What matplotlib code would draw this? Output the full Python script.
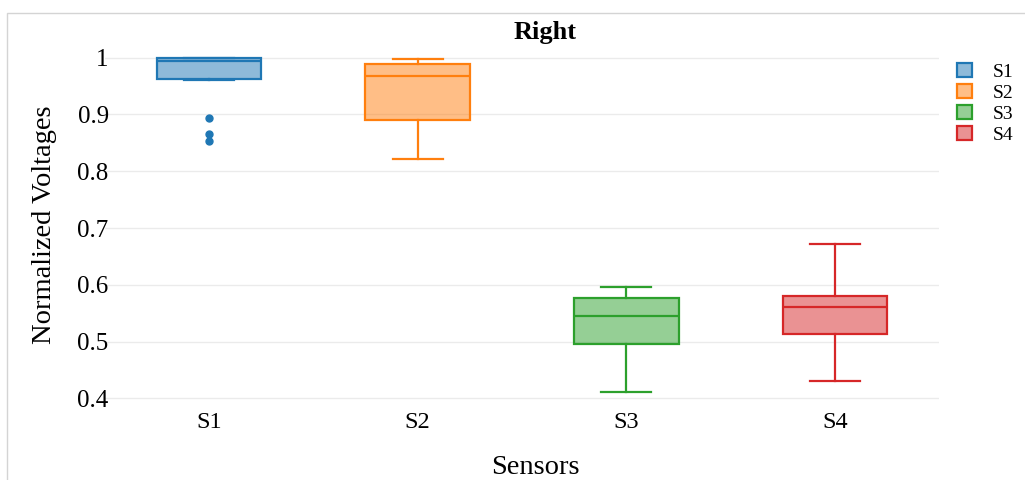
import matplotlib
matplotlib.use("Agg")
import matplotlib.pyplot as plt
from matplotlib.patches import Patch, Rectangle
from matplotlib.colors import to_rgba

# Summary statistics per sensor
sensors = ["S1", "S2", "S3", "S4"]
whisker_low = [0.961, 0.822, 0.411, 0.430]
q1 = [0.962, 0.891, 0.495, 0.513]
median = [0.994, 0.967, 0.545, 0.561]
q3 = [0.999, 0.989, 0.577, 0.580]
whisker_high = [0.999, 0.998, 0.596, 0.671]
outliers = [[0.894, 0.865, 0.854], [], [], []]

colors = ["#1f77b4", "#ff7f0e", "#2ca02c", "#d62728"]
y_ticks = [0.4, 0.5, 0.6, 0.7, 0.8, 0.9, 1.0]
y_tick_labels = ["0.4", "0.5", "0.6", "0.7", "0.8", "0.9", "1"]

W, H = 1025, 480
fig = plt.figure(figsize=(W / 100, H / 100), dpi=100)
serif = ["Liberation Serif", "DejaVu Serif"]

# figure frame (light border along top and left)
fig.add_artist(Rectangle((7 / W, -0.2), 2.0, (H - 13) / H + 0.2,
                         transform=fig.transFigure, fill=False,
                         edgecolor="#d4d4d4", linewidth=1.0))

ylo, yhi = 0.385, 1.025
px_per_unit = 567.7
y1_px = 57.7
top_px = y1_px - (yhi - 1.0) * px_per_unit
bot_px = y1_px + (1.0 - ylo) * px_per_unit
left_px, right_px = 104.5, 939.5
ax = fig.add_axes([left_px / W, (H - bot_px) / H,
                   (right_px - left_px) / W, (bot_px - top_px) / H])

stats = []
for i, name in enumerate(sensors):
    stats.append(dict(label=name, whislo=whisker_low[i], q1=q1[i], med=median[i],
                      q3=q3[i], whishi=whisker_high[i], fliers=outliers[i]))

positions = list(range(len(sensors)))
for i, st in enumerate(stats):
    c = colors[i]
    ax.bxp([st], positions=[positions[i]], widths=0.5, patch_artist=True,
           showfliers=True, capwidths=0.24,
           boxprops=dict(facecolor=to_rgba(c, 0.5), edgecolor=c, linewidth=1.6),
           medianprops=dict(color=c, linewidth=1.6),
           whiskerprops=dict(color=c, linewidth=1.6),
           capprops=dict(color=c, linewidth=1.6),
           flierprops=dict(marker="o", markerfacecolor=c, markeredgecolor=c,
                           markersize=5, linestyle="none"),
           zorder=3)

ax.set_xlim(-0.5, 3.5)
ax.set_ylim(ylo, yhi)
ax.set_xticks(positions)
ax.set_xticklabels(sensors, family=serif, fontsize=17.5)
ax.set_yticks(y_ticks)
ax.set_yticklabels(y_tick_labels, family=serif, fontsize=18)
ax.tick_params(axis="y", length=0, pad=-3)
ax.tick_params(axis="x", length=0, pad=4)
ax.grid(axis="y", color="#ebebeb", linewidth=1.0, zorder=0)
ax.set_axisbelow(True)
for sp in ax.spines.values():
    sp.set_visible(False)

ax.set_ylabel("Normalized Voltages", family=serif, fontsize=20.5, labelpad=15)
fig.text(535 / W, 1 - 468 / H, "Sensors", family=serif, fontsize=20.5,
         ha="center", va="center")
fig.text(545 / W, 1 - 32 / H, "Right", family=serif, fontsize=19,
         fontweight="bold", ha="center", va="center")

handles = [Patch(facecolor=to_rgba(c, 0.5), edgecolor=c, linewidth=1.6) for c in colors]
fig.legend(handles, sensors, loc="upper left", bbox_to_anchor=(949 / W, 1 - 55 / H),
           frameon=False, prop=dict(family=serif, size=14),
           handlelength=0.78, handleheight=0.78, labelspacing=0.15,
           handletextpad=1.05, borderaxespad=0)

fig.savefig("out.png", dpi=100)
